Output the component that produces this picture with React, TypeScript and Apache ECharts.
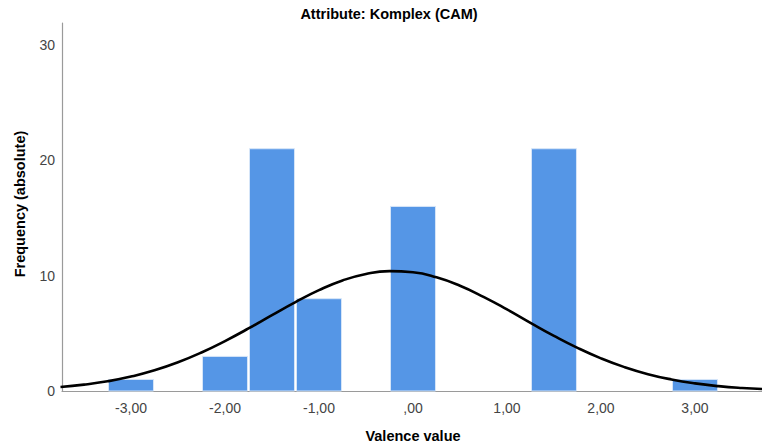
import React, { useEffect, useRef } from "react";
import * as echarts from "echarts";

const binCenters = [-3, -2, -1.5, -1, 0, 1.5, 3];
const frequencies = [1, 3, 21, 8, 16, 21, 1];
const binWidth = 0.5;

const curveX = [-3.75, -3.5, -3.25, -3, -2.75, -2.5, -2.25, -2, -1.75, -1.5, -1.25, -1, -0.75, -0.5, -0.25, 0, 0.25, 0.5, 0.75, 1, 1.25, 1.5, 1.75, 2, 2.25, 2.5, 2.75, 3, 3.25, 3.5, 3.75];
const curveY = [0.35, 0.55, 0.84, 1.25, 1.79, 2.49, 3.34, 4.33, 5.42, 6.58, 7.71, 8.74, 9.58, 10.15, 10.39, 10.29, 9.85, 9.12, 8.16, 7.07, 5.91, 4.78, 3.74, 2.83, 2.07, 1.46, 1.0, 0.66, 0.42, 0.26, 0.16];

const xTicks = [-3, -2, -1, 0, 1, 2, 3];
const yTicks = [0, 10, 20, 30];

const titleText = "Attribute: Komplex (CAM)";
const xTitle = "Valence value";
const yTitle = "Frequency (absolute)";

function fmtX(v: number): string {
  const s = Math.abs(v).toFixed(2).replace(".", ",");
  const t = s.startsWith("0,") ? s.slice(1) : s;
  return (v < 0 ? "-" : "") + t;
}

export default function App() {
  const ref = useRef<HTMLDivElement>(null);
  useEffect(() => {
    if (!ref.current) return;
    const chart = echarts.init(ref.current, null, { renderer: "svg" });
    const font = "'Liberation Sans', Arial, sans-serif";
    const barData = binCenters.map((c, i) => [c, frequencies[i]]);
    const lineData = curveX.map((x, i) => [x, curveY[i]]);
    chart.setOption({
      animation: false,
      backgroundColor: "#ffffff",
      textStyle: { fontFamily: font },
      grid: { left: 62, right: 0, top: 23, bottom: 57, containLabel: false },
      xAxis: {
        type: "value",
        min: -3.734,
        max: 3.713,
        splitLine: { show: false },
        axisLine: { show: true, onZero: false, lineStyle: { color: "#9a9a9a", width: 1.2 } },
        axisTick: { show: false },
        axisLabel: {
          customValues: xTicks,
          formatter: (v: number) => fmtX(v),
          color: "#444",
          fontSize: 14,
          margin: 10,
          fontFamily: font,
        },
      },
      yAxis: {
        type: "value",
        min: 0,
        max: 31.9,
        splitLine: { show: false },
        axisLine: { show: true, onZero: false, lineStyle: { color: "#9a9a9a", width: 1.2 } },
        axisTick: { show: false },
        axisLabel: {
          customValues: yTicks,
          color: "#444",
          fontSize: 14,
          margin: 7,
          fontFamily: font,
        },
      },
      graphic: [
        {
          type: "text",
          x: 389,
          y: 14,
          style: {
            text: titleText,
            fontSize: 14.5,
            fontWeight: "bold",
            fontFamily: font,
            fill: "#000",
            align: "center",
            verticalAlign: "middle",
          },
        },
        {
          type: "text",
          x: 413,
          y: 436,
          style: {
            text: xTitle,
            fontSize: 14.5,
            fontWeight: "bold",
            fontFamily: font,
            fill: "#000",
            align: "center",
            verticalAlign: "middle",
          },
        },
        {
          type: "text",
          x: 20,
          y: 204,
          rotation: Math.PI / 2,
          style: {
            text: yTitle,
            fontSize: 14.5,
            fontWeight: "bold",
            fontFamily: font,
            fill: "#000",
            align: "center",
            verticalAlign: "middle",
          },
        },
      ],
      series: [
        {
          type: "custom",
          data: barData,
          renderItem: (params: any, api: any) => {
            const c = api.value(0);
            const f = api.value(1);
            const p0 = api.coord([c - binWidth / 2, f]);
            const p1 = api.coord([c + binWidth / 2, 0]);
            return {
              type: "rect",
              shape: { x: p0[0] + 1, y: p0[1], width: p1[0] - p0[0] - 2, height: p1[1] - p0[1] },
              style: { fill: "#5596e6", stroke: "#d6e5f8", lineWidth: 1 },
            };
          },
          z: 2,
        },
        {
          type: "line",
          data: lineData,
          smooth: true,
          showSymbol: false,
          symbol: "none",
          lineStyle: { color: "#000", width: 2.6 },
          z: 3,
        },
      ],
    });
    return () => chart.dispose();
  }, []);
  return <div ref={ref} style={{ width: 762, height: 448, position: "absolute", left: 0, top: 0 }} />;
}
